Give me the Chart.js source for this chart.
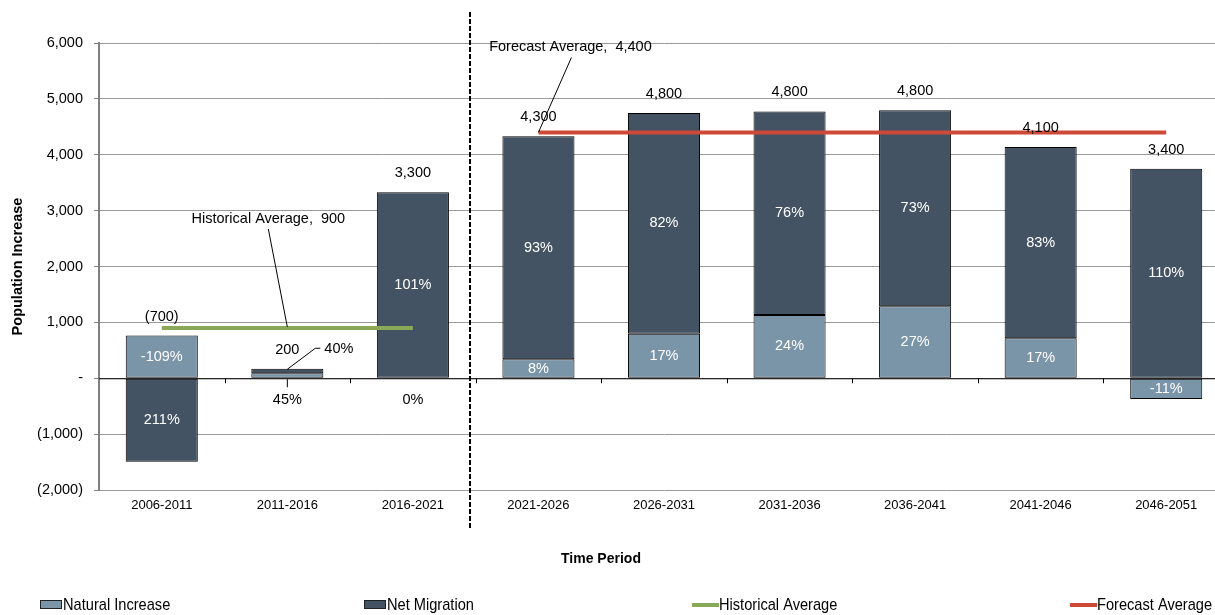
<!DOCTYPE html>
<html>
<head>
<meta charset="utf-8">
<script src="https://cdn.jsdelivr.net/npm/chart.js@4.4.1/dist/chart.umd.min.js"></script>
<style>
  html, body { margin: 0; padding: 0; background: #fff; overflow: hidden; }
  #wrap { width: 1232px; height: 615px; }
</style>
</head>
<body>
<div id="wrap"><canvas id="popChart" width="1232" height="615"></canvas></div>
<script>
var periods = ['2006-2011', '2011-2016', '2016-2021', '2021-2026', '2026-2031',
               '2031-2036', '2036-2041', '2041-2046', '2046-2051'];
var naturalIncrease = [765, 90, 0, 340, 795, 1130, 1290, 715, -370];
var netMigration = [-1495, 80, 3330, 3990, 3950, 3645, 3505, 3425, 3750];
var totalLabels = ['(700)', '200', '3,300', '4,300', '4,800', '4,800', '4,800', '4,100', '3,400'];
var naturalPct = ['-109%', '45%', '0%', '8%', '17%', '24%', '27%', '17%', '-11%'];
var migrationPct = ['211%', '40%', '101%', '93%', '82%', '76%', '73%', '83%', '110%'];
var historicalAverage = 900;
var forecastAverage = 4400;
var historicalCount = 3; // 2006-2021 are history, the rest forecast

var FONT = '"Liberation Sans", Arial, sans-serif';
var NI_COLOR = '#7b95a8';
var NM_COLOR = '#435363';
var HIST_COLOR = '#89a858';
var FCST_COLOR = '#cd4a38';

var historicalLine = periods.map(function (p, i) { return i < historicalCount ? historicalAverage : null; });
var forecastLine = periods.map(function (p, i) { return i >= historicalCount ? forecastAverage : null; });

function fmtAxis(v) {
    if (v === 0) return '-';
    var s = Math.abs(v).toLocaleString('en-US');
    return v < 0 ? '(' + s + ')' : s;
}

function line(ctx, pts) {
    ctx.beginPath();
    ctx.moveTo(pts[0][0], pts[0][1]);
    for (var i = 1; i < pts.length; i++) ctx.lineTo(pts[i][0], pts[i][1]);
    ctx.stroke();
}

var labelsPlugin = {
    id: 'popLabels',
    afterDatasetsDraw: function (chart) {
        var ctx = chart.ctx;
        var xs = chart.scales.x, ys = chart.scales.y;
        var area = chart.chartArea;
        var zero = ys.getPixelForValue(0);
        var niMeta = chart.getDatasetMeta(0), nmMeta = chart.getDatasetMeta(1);

        ctx.save();
        // zero line and category ticks
        ctx.strokeStyle = '#000';
        ctx.lineWidth = 1;
        line(ctx, [[area.left, zero + 0.5], [area.right, zero + 0.5]]);
        for (var k = 1; k < periods.length; k++) {
            var tx = Math.round(xs.getPixelForValue(k - 0.5)) + 0.5;
            line(ctx, [[tx, zero], [tx, zero + 5]]);
        }

        // history / forecast divider
        ctx.setLineDash([5, 2]);
        ctx.lineWidth = 2;
        var dx = Math.round(xs.getPixelForValue(historicalCount - 0.545));
        line(ctx, [[dx, area.top - 31], [dx, area.bottom + 39]]);
        ctx.setLineDash([]);

        ctx.font = '14.5px ' + FONT;
        ctx.textAlign = 'center';
        ctx.textBaseline = 'middle';
        ctx.lineWidth = 1;

        for (var i = 0; i < periods.length; i++) {
            var ni = niMeta.data[i], nm = nmMeta.data[i];
            var x = ni.x;
            var top = Math.min(ni.y, nm.y, zero);
            var niH = Math.abs(ni.base - ni.y);
            var nmH = Math.abs(nm.base - nm.y);

            ctx.fillStyle = '#000';
            ctx.fillText(totalLabels[i], x, top - 19);

            if (niH >= 14) {
                ctx.fillStyle = '#fff';
                ctx.fillText(naturalPct[i], x, (ni.y + ni.base) / 2);
            } else {
                ctx.fillStyle = '#000';
                ctx.fillText(naturalPct[i], x, zero + 22);
                if (niH > 0) line(ctx, [[x, zero + 1], [x, zero + 9]]);
            }
            if (nmH >= 14) {
                ctx.fillStyle = '#fff';
                ctx.fillText(migrationPct[i], x, (nm.y + nm.base) / 2);
            } else {
                ctx.fillStyle = '#000';
                line(ctx, [[x, top + 0.5], [x + 28, top - 20.5], [x + 33, top - 20.5]]);
                ctx.textAlign = 'left';
                ctx.fillText(migrationPct[i], x + 37, top - 20);
                ctx.textAlign = 'center';
            }
        }

        // average callouts
        ctx.fillStyle = '#000';
        var hx = xs.getPixelForValue(1), hy = ys.getPixelForValue(historicalAverage);
        var hlx = hx - 19, hly = ys.getPixelForValue(2850);
        ctx.fillText('Historical Average,  900', hlx, hly);
        line(ctx, [[hlx, hly + 10], [hx, hy - 1]]);

        var fx = xs.getPixelForValue(historicalCount), fy = ys.getPixelForValue(forecastAverage);
        var flx = fx + 32, fly = ys.getPixelForValue(5920);
        ctx.fillText('Forecast Average,  4,400', flx, fly);
        line(ctx, [[flx + 1, fly + 10], [fx, fy]]);
        ctx.restore();
    },
    afterDraw: function (chart) {
        var ctx = chart.ctx;
        var area = chart.chartArea;
        ctx.save();
        ctx.fillStyle = '#000';
        ctx.textAlign = 'center';
        ctx.textBaseline = 'middle';
        ctx.font = 'bold 14px ' + FONT;
        ctx.fillText('Time Period', 601, 559);
        ctx.translate(18, (area.top + area.bottom) / 2);
        ctx.rotate(-Math.PI / 2);
        ctx.font = 'bold 14.5px ' + FONT;
        ctx.fillText('Population Increase', 0, 0);
        ctx.restore();

        // legend
        var items = [
            { text: 'Natural Increase', kind: 'box', color: NI_COLOR, x: 40 },
            { text: 'Net Migration', kind: 'box', color: NM_COLOR, x: 364 },
            { text: 'Historical Average', kind: 'line', color: HIST_COLOR, x: 692 },
            { text: 'Forecast Average', kind: 'line', color: FCST_COLOR, x: 1070 }
        ];
        var ly = 604;
        ctx.save();
        ctx.textBaseline = 'middle';
        ctx.textAlign = 'left';
        items.forEach(function (it) {
            var tx;
            if (it.kind === 'box') {
                ctx.fillStyle = it.color;
                ctx.fillRect(it.x, ly - 4, 22, 9);
                ctx.strokeStyle = '#222';
                ctx.lineWidth = 1;
                ctx.strokeRect(it.x + 0.5, ly - 3.5, 21, 8);
                tx = it.x + 23;
            } else {
                ctx.strokeStyle = it.color;
                ctx.lineWidth = 4;
                line(ctx, [[it.x, ly + 1], [it.x + 27, ly + 1]]);
                tx = it.x + 27;
            }
            ctx.save();
            ctx.translate(tx, ly + 1);
            ctx.scale(0.86, 1);
            ctx.fillStyle = '#000';
            ctx.font = '17px ' + FONT;
            ctx.fillText(it.text, 0, 0);
            ctx.restore();
        });
        ctx.restore();
    }
};

var ctx = document.getElementById('popChart').getContext('2d');
var popChart = new Chart(ctx, {
    type: 'bar',
    data: {
        labels: periods,
        datasets: [
            {
                label: 'Natural Increase',
                data: naturalIncrease,
                backgroundColor: NI_COLOR,
                borderColor: '#000',
                borderWidth: 1,
                borderSkipped: false,
                stack: 'pop',
                order: 2
            },
            {
                label: 'Net Migration',
                data: netMigration,
                backgroundColor: NM_COLOR,
                borderColor: '#000',
                borderWidth: 1,
                borderSkipped: false,
                stack: 'pop',
                order: 2
            },
            {
                type: 'line',
                label: 'Historical Average',
                data: historicalLine,
                borderColor: HIST_COLOR,
                borderWidth: 4,
                pointRadius: 0,
                fill: false,
                stack: 'hist',
                order: 1
            },
            {
                type: 'line',
                label: 'Forecast Average',
                data: forecastLine,
                borderColor: FCST_COLOR,
                borderWidth: 4,
                pointRadius: 0,
                fill: false,
                stack: 'fcst',
                order: 1
            }
        ]
    },
    options: {
        responsive: false,
        animation: false,
        devicePixelRatio: 1,
        barPercentage: 0.574,
        categoryPercentage: 1,
        layout: { padding: { top: 43, right: 3, left: 0, bottom: 0 } },
        plugins: {
            legend: { display: false },
            tooltip: { enabled: false }
        },
        scales: {
            x: {
                stacked: true,
                offset: true,
                grid: { display: false, drawTicks: false },
                border: { display: false },
                ticks: {
                    color: '#000',
                    font: { family: FONT, size: 13 },
                    padding: 8,
                    maxRotation: 0
                },
                afterFit: function (scale) { scale.height = 125; }
            },
            y: {
                stacked: true,
                min: -2000,
                max: 6000,
                ticks: {
                    stepSize: 1000,
                    color: '#000',
                    font: { family: FONT, size: 14.5 },
                    padding: 11,
                    callback: function (v) { return fmtAxis(v); }
                },
                grid: {
                    color: '#9a9a9a',
                    tickColor: '#808080',
                    tickLength: 5,
                    lineWidth: 1
                },
                border: { color: '#808080', width: 2 },
                afterFit: function (scale) { scale.width = 99; }
            }
        }
    },
    plugins: [labelsPlugin]
});
</script>
</body>
</html>
